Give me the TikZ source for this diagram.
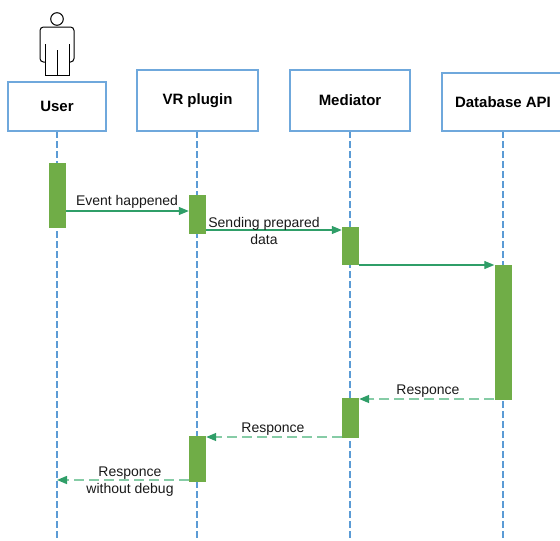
\documentclass[tikz,border=0pt]{standalone}
\usepackage{fontspec}
\setmainfont{Liberation Sans}
\usetikzlibrary{arrows.meta}
\definecolor{boxblue}{HTML}{6FA8DC}
\definecolor{lineblue}{HTML}{5B9BD5}
\definecolor{bargreen}{HTML}{70AD47}
\definecolor{arrgreen}{HTML}{2F9E68}
\definecolor{retgreen}{HTML}{86CCA6}
\tikzset{
  head/.style={draw=boxblue, line width=1.3pt, fill=white, minimum height=59pt, inner sep=0pt, font=\fontsize{15}{18}\selectfont\bfseries},
  lifeline/.style={draw=lineblue, line width=2.2pt, dash pattern=on 6.5pt off 3.5pt},
  actbar/.style={fill=bargreen, draw=none, minimum width=17pt, inner sep=0pt},
  msg/.style={draw=arrgreen, line width=1.2pt, -{Triangle[length=10pt,width=8pt]}},
  ret/.style={draw=retgreen, line width=1.5pt, dash pattern=on 10pt off 5pt, -{Triangle[length=10pt,width=8pt,color=arrgreen]}},
  lbl/.style={font=\fontsize{14}{17}\selectfont, align=center, inner sep=0pt, text=black!90}
}
\begin{document}
\begin{tikzpicture}[x=1pt,y=-1pt]
\useasboundingbox (0,0) rectangle (560,541);
\begin{scope}
\clip (0,0) rectangle (560,541);
% lifelines
\draw[lifeline] (57,131) coordinate (l1t) -- (57,541) coordinate (l1b);
\draw[lifeline] (197,131) coordinate (l2t) -- (197,541) coordinate (l2b);
\draw[lifeline] (350,131) coordinate (l3t) -- (350,541) coordinate (l3b);
\draw[lifeline] (503,131) coordinate (l4t) -- (503,541) coordinate (l4b);
% heads
\node[head, minimum width=98pt, minimum height=49pt] (user) at (57,106.5) {User};
\node[head, minimum width=121pt, minimum height=61pt] (vr) at (197.5,100.5) {VR plugin};
\node[head, minimum width=120pt, minimum height=61pt] (med) at (350,100.5) {Mediator};
\node[head, minimum width=122pt, minimum height=58pt] (db) at (503,102) {Database API};
\end{scope}
% actor
\node[circle, draw=black, line width=1pt, minimum size=12.6pt, inner sep=0pt] (actorhead) at (57,19) {};
\draw[line width=1pt, rounded corners=3.5pt] (45,62) -- (40,62) -- (40,27) -- (74,27) -- (74,62) -- (69,62);
\draw[line width=1pt] (45,44) -- (45,75) -- (69,75) -- (69,44);
\draw[line width=1pt] (57,50) -- (57,75);
% activation bars
\node[actbar, minimum height=65pt] (ub) at (57.5,195.5) {};
\node[actbar, minimum height=39pt] (vb1) at (197.5,214.5) {};
\node[actbar, minimum height=38pt] (mb1) at (350.5,246) {};
\node[actbar, minimum height=135pt] (db1) at (503,332.5) {};
\node[actbar, minimum height=40pt] (mb2) at (350.5,418) {};
\node[actbar, minimum height=46pt] (vb2) at (197.5,459) {};
% messages
\draw[msg] (ub.east |- 0,211) -- (vb1.west |- 0,211);
\node[lbl] (t1) at (127,202) {Event happened};
\draw[msg] (vb1.east |- 0,230) -- (mb1.west |- 0,230);
\node[lbl] (t2) at (264,230.5) {Sending prepared\\data};
\draw[msg] (mb1.east |- 0,265) -- (db1.west |- 0,265);
\draw[ret] (db1.west |- 0,399) -- (mb2.east |- 0,399);
\node[lbl] (t3) at (428,391) {Responce};
\draw[ret] (mb2.west |- 0,437) -- (vb2.east |- 0,437);
\node[lbl] (t4) at (273,429.5) {Responce};
\draw[ret] (vb2.west |- 0,480) -- (l1t |- 0,480);
\node[lbl] (t5) at (130,482) {Responce\\without debug};
\end{tikzpicture}
\end{document}
